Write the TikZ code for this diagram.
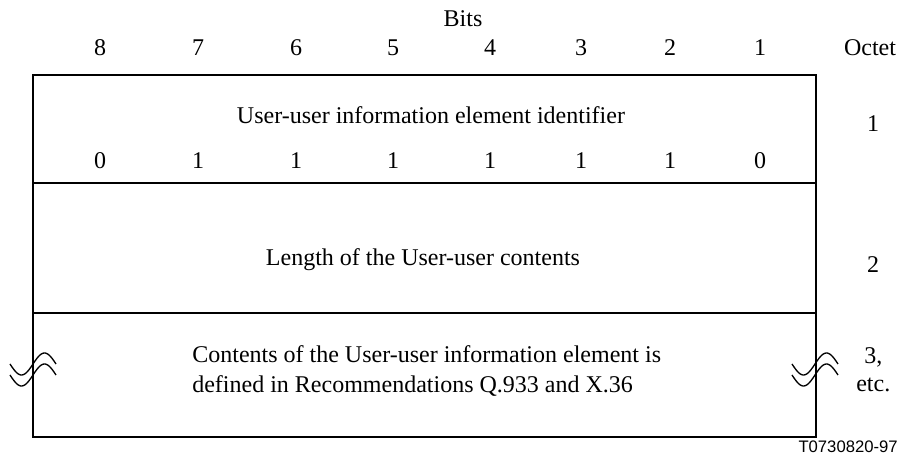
\documentclass[tikz,border=0pt]{standalone}
\usepackage{fontspec}
\setmainfont{Liberation Serif}
\newfontfamily\figsans{Liberation Sans}
\usetikzlibrary{calc}
\newcommand*{\WaveAmp}{11}
\newcommand*{\WaveGap}{11}

\begin{document}
\begin{tikzpicture}
	[x=0.6pt,y=-0.6pt,
	every node/.style={inner sep=0pt,font=\fontsize{14.4}{18}\selectfont},
	txt/.style={anchor=base},
	wave/.style={line width=0.8pt}];
	\useasboundingbox (0,0) rectangle (900,463);

	%Frame
	\coordinate (nw) at (33,75);
	\coordinate (se) at (816,437);
	\coordinate (r1w) at (33,183);
	\coordinate (r1e) at (816,183);
	\coordinate (r2w) at (33,313);
	\coordinate (r2e) at (816,313);
	\draw[line width=0.8pt] (nw) rectangle (se);
	\draw[line width=0.8pt] (r1w) -- (r1e);
	\draw[line width=0.8pt] (r2w) -- (r2e);

	%Heading
	\node[txt] (bits) at (463,27) {Bits};
	\node[txt] (octet) at (870,56) {Octet};
	\foreach \n/\x/\v in {8/100/0,7/198/1,6/296/1,5/393/1,4/490/1,3/581/1,2/670/1,1/760/0}
	{
		\node[txt] (b\n) at (\x,56) {\n};
		\node[txt] (v\n) at (\x,169) {\v};
	}

	%Fields
	\node[txt] (ident) at (431,124) {User-user information element identifier};
	\node[txt] (len) at (423,266) {Length of the User-user contents};
	\node[txt,anchor=base west] (cont) at (192,363) {Contents of the User-user information element is};
	\node[txt,anchor=base west] (cont2) at (192,393) {defined in Recommendations Q.933 and X.36};

	%Octets
	\node[txt] (o1) at (873,132) {1};
	\node[txt] (o2) at (873,273) {2};
	\node[txt,anchor=base west] (o3) at (864,364) {3,};
	\node[txt,anchor=base west] (o3b) at (856,392) {etc.};

	%Breaks
	\foreach \cx in {33,815}
	{
		\draw[wave] plot [domain=0:360,samples=40,smooth] ({\cx-23+\x/360*46},{364+\WaveAmp*sin(\x)});
		\draw[wave] plot [domain=0:360,samples=40,smooth] ({\cx-23+\x/360*46},{364+\WaveGap+\WaveAmp*sin(\x)});
	}

	\node[anchor=base east,font=\figsans\fontsize{10}{12}\selectfont] (tag) at (898,453) {T0730820-97};
\end{tikzpicture}
\end{document}
